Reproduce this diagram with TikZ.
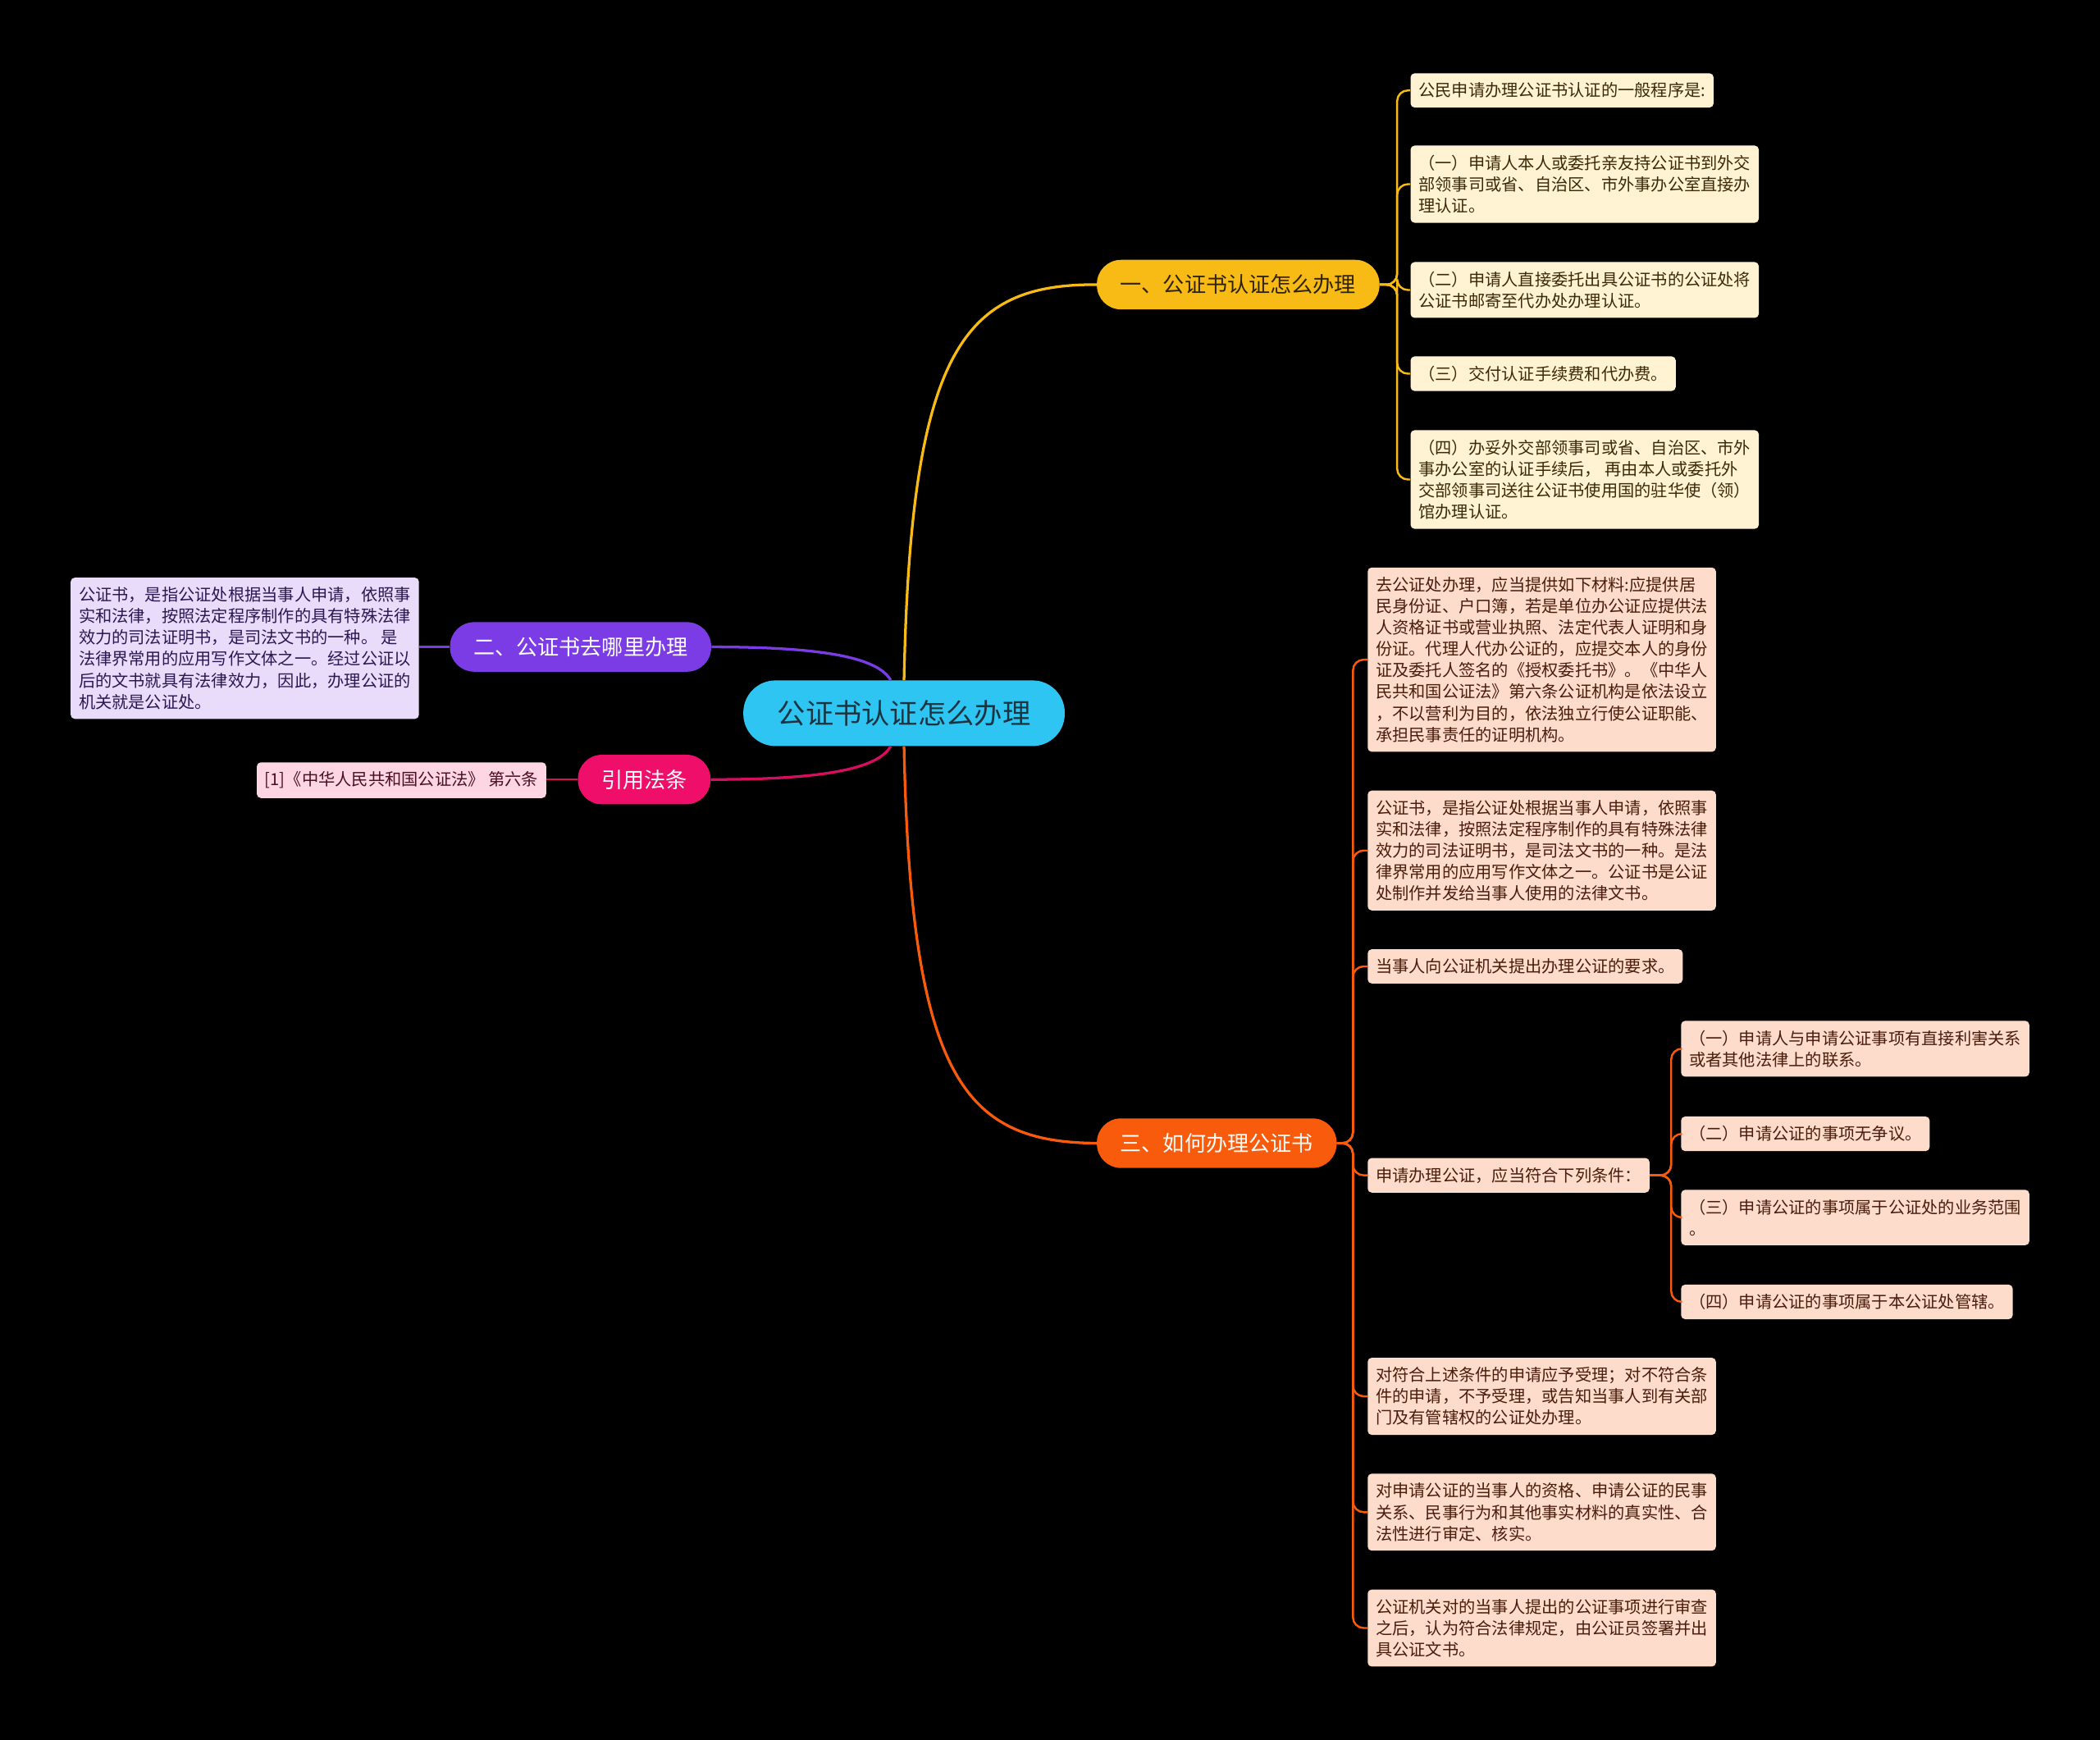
\documentclass[tikz,border=0pt]{standalone}
\usepackage{fontspec}
\setmainfont{Noto Sans CJK SC}
\usetikzlibrary{positioning,calc}

\definecolor{rootcyan}{HTML}{2EC5F2}
\definecolor{rootink}{HTML}{1B3440}
\definecolor{yelbranch}{HTML}{F8BA14}
\definecolor{yelink}{HTML}{2E2300}
\definecolor{yelleaf}{HTML}{FFF3D4}
\definecolor{yelleafink}{HTML}{3B2A08}
\definecolor{purbranch}{HTML}{7B3CE6}
\definecolor{purleaf}{HTML}{E8DCFA}
\definecolor{purleafink}{HTML}{2B1852}
\definecolor{pinkbranch}{HTML}{EF0F6A}
\definecolor{pinkleaf}{HTML}{FDD5E3}
\definecolor{pinkleafink}{HTML}{4A1022}
\definecolor{orgbranch}{HTML}{F95B0C}
\definecolor{orgleaf}{HTML}{FEDCCB}
\definecolor{orgleafink}{HTML}{4A1D0C}

\tikzset{
  rootnode/.style={fill=rootcyan,text=rootink,rounded corners=24pt,minimum height=49pt,
    inner xsep=25.5pt,font=\fontsize{21}{24}\selectfont},
  branchnode/.style={rounded corners=18pt,minimum height=37pt,inner xsep=17.5pt,
    font=\fontsize{16}{19}\selectfont},
  leafnode/.style={anchor=west,rounded corners=3pt,inner xsep=6pt,inner ysep=7pt,
    align=left,font=\fontsize{12.4}{16}\selectfont},
  yleaf/.style={leafnode,fill=yelleaf,text=yelleafink},
  oleaf/.style={leafnode,fill=orgleaf,text=orgleafink},
  mainline/.style={line width=2pt},
  twig/.style={line width=1.5pt,rounded corners=8pt}
}

\begin{document}
\begin{tikzpicture}[x=1pt,y=-1pt]
 \fill[black] (0,0) rectangle (1568,1299);
 \useasboundingbox (0,0) rectangle (1568,1299);

 % root and main branches
 \node[rootnode] (root) at (675,532.5) {公证书认证怎么办理};
 \node[branchnode,fill=yelbranch,text=yelink] (b1) at (924.5,212.5) {一、公证书认证怎么办理};
 \node[branchnode,fill=purbranch,text=white] (b2) at (433.5,483) {二、公证书去哪里办理};
 \node[branchnode,fill=pinkbranch,text=white] (b3) at (481,582) {引用法条};
 \node[branchnode,fill=orgbranch,text=white] (b4) at (908.5,853.5) {三、如何办理公证书};

 \draw[mainline,yelbranch] (root.north) .. controls (680,260) and (720,212) .. (b1.west);
 \draw[mainline,orgbranch] (root.south) .. controls (680,805) and (720,853) .. (b4.west);
 \draw[mainline,purbranch] ([xshift=-10pt]root.north) .. controls (655,490) and (610,483) .. (b2.east);
 \draw[mainline,pinkbranch!90!black] ([xshift=-10pt]root.south) .. controls (655,575) and (610,582) .. (b3.east);

 % branch one
 \node[yleaf] (y1) at (1053,67.5) {公民申请办理公证书认证的一般程序是:};
 \node[yleaf] (y2) at (1053,137.5) {（一）申请人本人或委托亲友持公证书到外交\\部领事司或省、自治区、市外事办公室直接办\\理认证。};
 \node[yleaf] (y3) at (1053,216.5) {（二）申请人直接委托出具公证书的公证处将\\公证书邮寄至代办处办理认证。};
 \node[yleaf] (y4) at (1053,279) {（三）交付认证手续费和代办费。};
 \node[yleaf] (y5) at (1053,358) {（四）办妥外交部领事司或省、自治区、市外\\事办公室的认证手续后， 再由本人或委托外\\交部领事司送往公证书使用国的驻华使（领）\\馆办理认证。};
 \foreach \k in {1,...,5}
   \draw[twig,yelbranch] (b1.east) -- ++(13,0) |- (y\k.west);

 % branch two
 \node[leafnode,anchor=east,fill=purleaf,text=purleafink] (p1) at (313,484) {公证书，是指公证处根据当事人申请，依照事\\实和法律，按照法定程序制作的具有特殊法律\\效力的司法证明书，是司法文书的一种。 是\\法律界常用的应用写作文体之一。经过公证以\\后的文书就具有法律效力，因此，办理公证的\\机关就是公证处。};
 \draw[line width=1.5pt,purbranch] (b2.west) -- (p1.east |- b2.west);

 % cited law
 \node[leafnode,anchor=east,fill=pinkleaf,text=pinkleafink] (q1) at (408,582.5) {[1]《中华人民共和国公证法》 第六条};
 \draw[line width=1.5pt,pinkbranch!90!black] (b3.west) -- (q1.east |- b3.west);

 % branch three
 \node[oleaf] (o1) at (1021,492.5) {去公证处办理，应当提供如下材料:应提供居\\民身份证、户口簿，若是单位办公证应提供法\\人资格证书或营业执照、法定代表人证明和身\\份证。代理人代办公证的，应提交本人的身份\\证及委托人签名的《授权委托书》。《中华人\\民共和国公证法》第六条公证机构是依法设立\\，不以营利为目的，依法独立行使公证职能、\\承担民事责任的证明机构。};
 \node[oleaf] (o2) at (1021,635) {公证书，是指公证处根据当事人申请，依照事\\实和法律，按照法定程序制作的具有特殊法律\\效力的司法证明书，是司法文书的一种。是法\\律界常用的应用写作文体之一。公证书是公证\\处制作并发给当事人使用的法律文书。};
 \node[oleaf] (o3) at (1021,721.5) {当事人向公证机关提出办理公证的要求。};
 \node[oleaf] (o4) at (1021,877.5) {申请办理公证，应当符合下列条件：};
 \node[oleaf] (o5) at (1021,1042.5) {对符合上述条件的申请应予受理；对不符合条\\件的申请，不予受理，或告知当事人到有关部\\门及有管辖权的公证处办理。};
 \node[oleaf] (o6) at (1021,1129) {对申请公证的当事人的资格、申请公证的民事\\关系、民事行为和其他事实材料的真实性、合\\法性进行审定、核实。};
 \node[oleaf] (o7) at (1021,1215.5) {公证机关对的当事人提出的公证事项进行审查\\之后，认为符合法律规定，由公证员签署并出\\具公证文书。};
 \foreach \k in {1,...,7}
   \draw[twig,orgbranch] (b4.east) -- ++(12,0) |- (o\k.west);

 % conditions
 \node[oleaf] (s1) at (1255,783) {（一）申请人与申请公证事项有直接利害关系\\或者其他法律上的联系。};
 \node[oleaf] (s2) at (1255,846.5) {（二）申请公证的事项无争议。};
 \node[oleaf] (s3) at (1255,909) {（三）申请公证的事项属于公证处的业务范围\\。};
 \node[oleaf] (s4) at (1255,972) {（四）申请公证的事项属于本公证处管辖。};
 \foreach \k in {1,...,4}
   \draw[twig,orgbranch] (o4.east) -- ++(16,0) |- (s\k.west);
\end{tikzpicture}
\end{document}
